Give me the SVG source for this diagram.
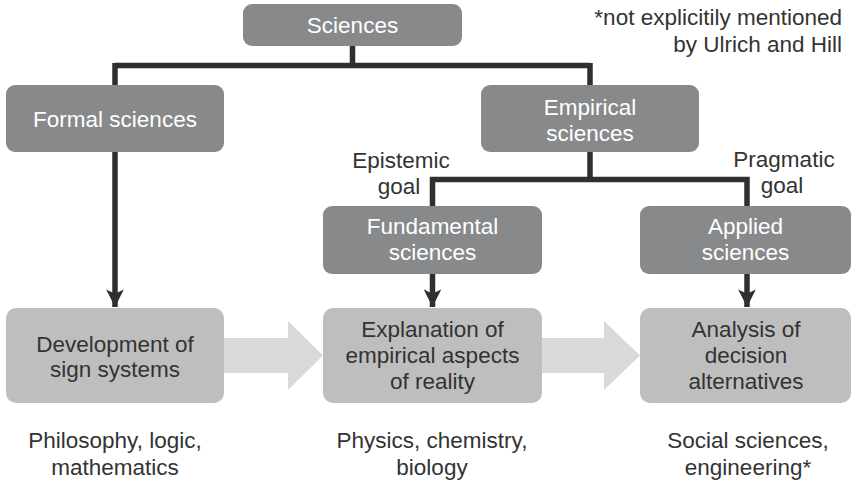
<svg xmlns="http://www.w3.org/2000/svg" width="853" height="481" viewBox="0 0 853 481">
  <defs>
    <marker id="head" viewBox="0 0 10 10" refX="10" refY="5" markerWidth="3.4" markerHeight="3.2" markerUnits="strokeWidth" orient="auto">
      <path d="M0,0 L10,5 L0,10 L2.5,5 Z" fill="#2f2f2f"/>
    </marker>
    <style>
      text { font-family: "Liberation Sans", Arial, sans-serif; font-size: 22.5px; text-anchor: middle; }
      .dark { fill: #88898b; }
      .light { fill: #bebebf; }
      .wt { fill: #ffffff; }
      .bt { fill: #333333; }
      .line { fill: none; stroke: #2f2f2f; stroke-width: 5.5; }
      .flow { fill: #d9d9da; }
    </style>
  </defs>

  <!-- broad flow arrows between the outcome boxes -->
  <g id="flow">
    <polygon class="flow" points="220,338 288,338 288,321 323,355.5 288,390 288,373 220,373"/>
    <polygon class="flow" points="538,338 604,338 604,321 640,355.5 604,390 604,373 538,373"/>
  </g>

  <!-- hierarchy lines and arrows -->
  <g id="connectors">
    <path class="line" d="M352.5,46 V65.5 M115,65.5 H590 M115,63 V85 M590,63 V85"/>
    <path class="line" d="M590,152 V179.5 M432.5,206 V179.5 H747 V206"/>
    <path class="line" d="M115,152 V307" marker-end="url(#head)"/>
    <path class="line" d="M432.5,274 V307" marker-end="url(#head)"/>
    <path class="line" d="M747,274 V307" marker-end="url(#head)"/>
  </g>

  <g id="sciences">
    <rect class="dark" x="243" y="4" width="219" height="42" rx="9"/>
    <text class="wt" x="352.5" y="33">Sciences</text>
  </g>

  <g id="formal">
    <rect class="dark" x="6" y="85" width="218" height="67" rx="9"/>
    <text class="wt" x="115" y="127">Formal sciences</text>
  </g>

  <g id="empirical">
    <rect class="dark" x="481" y="85" width="218" height="67" rx="9"/>
    <text class="wt" x="590" y="115">Empirical</text>
    <text class="wt" x="590" y="141">sciences</text>
  </g>

  <g id="fundamental">
    <rect class="dark" x="323" y="206" width="219" height="68" rx="9"/>
    <text class="wt" x="432.5" y="234">Fundamental</text>
    <text class="wt" x="432.5" y="260">sciences</text>
  </g>

  <g id="applied">
    <rect class="dark" x="640" y="206" width="211" height="68" rx="9"/>
    <text class="wt" x="745.5" y="234">Applied</text>
    <text class="wt" x="745.5" y="260">sciences</text>
  </g>

  <g id="development">
    <rect class="light" x="6" y="308" width="218" height="95" rx="10"/>
    <text class="bt" x="115" y="352">Development of</text>
    <text class="bt" x="115" y="377">sign systems</text>
  </g>

  <g id="explanation">
    <rect class="light" x="323" y="308" width="219" height="95" rx="10"/>
    <text class="bt" x="432.5" y="337">Explanation of</text>
    <text class="bt" x="432.5" y="363">empirical aspects</text>
    <text class="bt" x="432.5" y="389">of reality</text>
  </g>

  <g id="analysis">
    <rect class="light" x="640" y="308" width="211" height="95" rx="10"/>
    <text class="bt" x="746" y="337">Analysis of</text>
    <text class="bt" x="746" y="363">decision</text>
    <text class="bt" x="746" y="389">alternatives</text>
  </g>

  <!-- goal labels -->
  <g id="labels">
    <text class="bt" x="401" y="168">Epistemic</text>
    <text class="bt" x="399" y="194">goal</text>
    <text class="bt" x="784" y="167">Pragmatic</text>
    <text class="bt" x="782" y="193">goal</text>
  </g>

  <!-- example disciplines -->
  <g id="examples">
    <text class="bt" x="115" y="448">Philosophy, logic,</text>
    <text class="bt" x="115" y="475">mathematics</text>
    <text class="bt" x="432" y="448">Physics, chemistry,</text>
    <text class="bt" x="432" y="475">biology</text>
    <text class="bt" x="748" y="448">Social sciences,</text>
    <text class="bt" x="748" y="475">engineering*</text>
  </g>

  <g id="note">
    <text class="bt" x="842" y="25" style="text-anchor:end">*not explicitily mentioned</text>
    <text class="bt" x="842" y="52" style="text-anchor:end">by Ulrich and Hill</text>
  </g>
</svg>
